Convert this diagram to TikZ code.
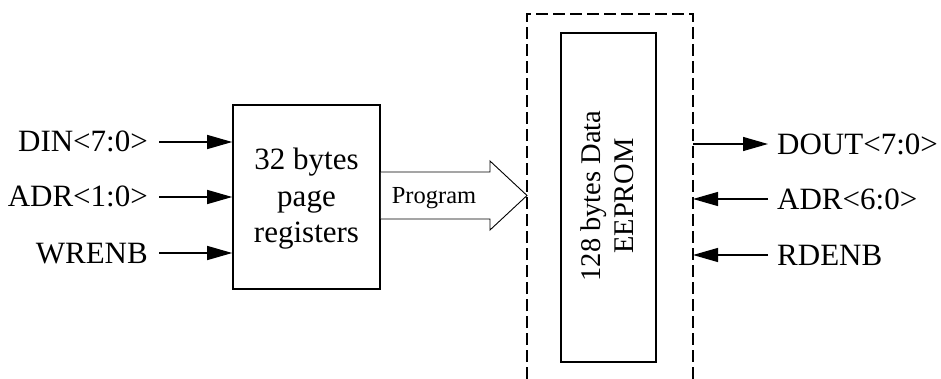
\documentclass[tikz,border=0pt]{standalone}
\usepackage{fontspec}
\setmainfont{Liberation Serif}
\usetikzlibrary{arrows.meta}
\begin{document}
\begin{tikzpicture}[x=1pt,y=-1pt,
  sig/.style={line width=1.3pt,-{Triangle[length=25pt,width=14pt]}},
  blk/.style={draw,line width=1.6pt,inner sep=0pt},
  lbl/.style={inner sep=0pt,font=\fontsize{31}{36}\selectfont},
  memtxt/.style={inner sep=0pt,rotate=90,anchor=base,font=\fontsize{28.5}{33}\selectfont},
  boundary/.style={line width=1.7pt,dash pattern=on 12pt off 5pt}]
\useasboundingbox (0,0) rectangle (941,379);

% page register block
\node[blk,minimum width=147pt,minimum height=184pt] (regs) at (306.5,197) {};
\node[lbl,anchor=base] (r1) at (306.5,170) {32 bytes};
\node[lbl,anchor=base] (r2) at (306.5,207) {page};
\node[lbl,anchor=base] (r3) at (306.5,243) {registers};

% EEPROM block inside the dashed boundary
\node[blk,minimum width=95pt,minimum height=329pt] (eep) at (608.5,197.5) {};
\node[memtxt] (e1) at (600,196) {128 bytes Data};
\node[memtxt] (e2) at (633,196) {EEPROM};

\coordinate (bTL) at (527,14);
\coordinate (bTR) at (693,14);
\draw[boundary] (527,379) -- (bTL) -- (bTR) -- (693,379);

% write-side inputs
\node[lbl,anchor=base east] (din) at (148,152) {DIN<7:0>};
\node[lbl,anchor=base east] (adrw) at (148,207) {ADR<1:0>};
\node[lbl,anchor=base east] (wrenb) at (148,263) {WRENB};
\coordinate (dinS) at (159,142);
\coordinate (adrwS) at (159,197);
\coordinate (wrenbS) at (159,253);
\draw[sig] (dinS) -- (dinS -| regs.west);
\draw[sig] (adrwS) -- (adrwS -| regs.west);
\draw[sig] (wrenbS) -- (wrenbS -| regs.west);

% program transfer arrow
\coordinate (pgTip) at (527,195.5);
\draw[line width=0.9pt,fill=white] (regs.east |- 0,172) -- (490,172) -- (490,161) -- (pgTip)
  -- (490,230) -- (490,219) -- (regs.east |- 0,219);
\node[inner sep=0pt,anchor=base,font=\fontsize{24.5}{28}\selectfont] (prog) at (434,204) {Program};

% read-side signals
\coordinate (doutS) at (693,144);
\coordinate (doutE) at (768,144);
\coordinate (adrrE) at (768,199);
\coordinate (rdenbE) at (768,255);
\draw[sig] (doutS) -- (doutE);
\draw[sig] (adrrE) -- (adrrE -| bTR);
\draw[sig] (rdenbE) -- (rdenbE -| bTR);
\node[lbl,anchor=base west] (dout) at (777,155) {DOUT<7:0>};
\node[lbl,anchor=base west] (adrr) at (777,210) {ADR<6:0>};
\node[lbl,anchor=base west] (rdenb) at (777,265) {RDENB};
\end{tikzpicture}
\end{document}
